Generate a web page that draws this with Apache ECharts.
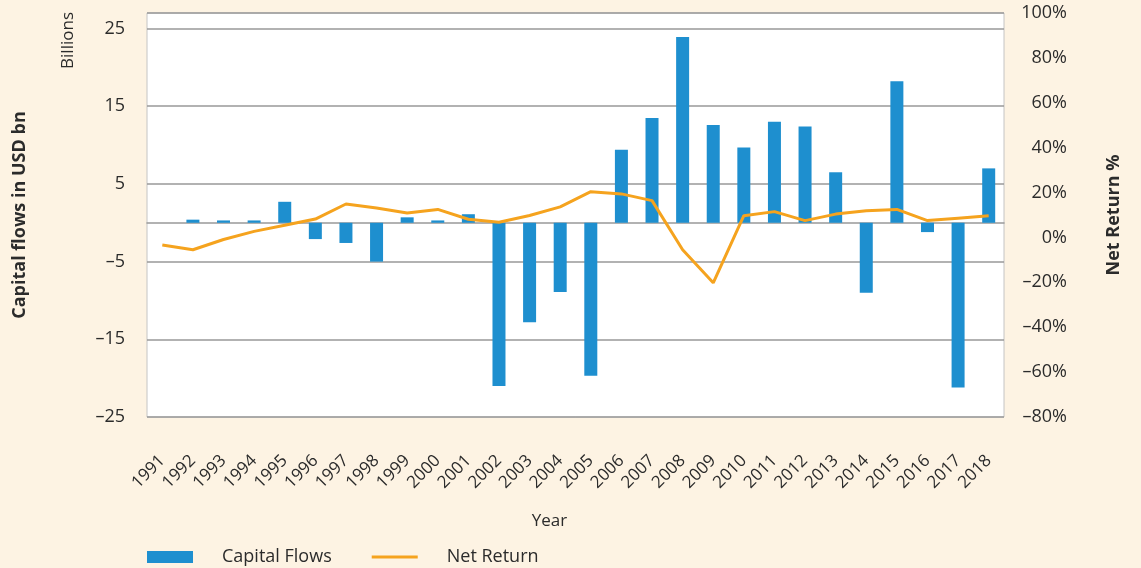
<!DOCTYPE html>
<html>
<head>
<meta charset="utf-8">
<script src="https://cdn.jsdelivr.net/npm/echarts@6/dist/echarts.min.js"></script>
<style>
  html, body { margin: 0; padding: 0; background: #fdf3e3; }
  #chart { width: 1141px; height: 568px; }
</style>
</head>
<body>
<div id="chart"></div>
<script>
// data
const years = ["1991", "1992", "1993", "1994", "1995", "1996", "1997", "1998", "1999", "2000",
  "2001", "2002", "2003", "2004", "2005", "2006", "2007", "2008", "2009", "2010",
  "2011", "2012", "2013", "2014", "2015", "2016", "2017", "2018"];
// capital flows, USD bn
const capitalFlows = [0, 0.4, 0.3, 0.3, 2.7, -2.1, -2.6, -5.0, 0.7, 0.3,
  1.1, -21.0, -12.8, -8.9, -19.7, 9.4, 13.5, 23.9, 12.6, 9.7,
  13.0, 12.4, 6.5, -9.0, 18.2, -1.2, -21.2, 7.0];
// net return, %
const netReturn = [-3.4, -5.5, -0.9, 2.7, 5.4, 8.2, 14.9, 13.1, 10.9, 12.5,
  8.1, 6.8, 9.8, 13.6, 20.4, 19.4, 16.4, -5.5, -20.2, 9.7,
  11.5, 7.5, 10.4, 11.9, 12.5, 7.5, 8.6, 9.7];

const txt = "#2b2b2b";
const font = "Open Sans";
const dash = (v) => String(v).replace("-", "\u2013");

const mychart = echarts.init(document.getElementById("chart"));

const option = {
  backgroundColor: "#fdf3e3",
  textStyle: { fontFamily: font, color: txt },
  grid: {
    left: 147, right: 137, top: 13, bottom: 151,
    outerBoundsMode: "none",
    show: true, backgroundColor: "#ffffff", borderColor: "#c4c4c4", borderWidth: 1
  },
  legend: {
    left: 147, bottom: 2,
    padding: 0,
    itemGap: 40,
    itemWidth: 46, itemHeight: 12,
    textStyle: { fontFamily: font, fontSize: 18, color: txt, padding: [0, 0, 0, 24] },
    data: [
      { name: "Capital Flows", icon: "rect" },
      { name: "Net Return", icon: "path://M0,0 L46,0 L46,3 L0,3 Z" }
    ]
  },
  graphic: [
    {
      type: "text", left: 60, top: 12, rotation: Math.PI / 2,
      style: { text: "Billions", fontFamily: font, fontSize: 17, fill: txt }
    }
  ],
  xAxis: {
    type: "category",
    data: years,
    name: "Year",
    nameLocation: "middle",
    nameGap: 96,
    nameTextStyle: { fontFamily: font, fontSize: 17, color: txt, padding: [0, 52, 0, 0] },
    axisLine: { onZero: true, lineStyle: { color: "#999", width: 1.5 } },
    axisTick: { show: false },
    axisLabel: { interval: 0, rotate: 45, margin: 41, fontSize: 17, color: txt, fontFamily: font }
  },
  yAxis: [
    {
      type: "value",
      min: -25, max: 27, interval: 10,
      name: "Capital flows in USD bn",
      nameLocation: "middle",
      nameRotate: 90,
      nameGap: 118,
      nameTextStyle: { fontFamily: font, fontSize: 18, fontWeight: "bold", color: txt },
      axisLine: { show: false },
      axisTick: { show: false },
      axisLabel: { showMaxLabel: false, margin: 22, fontSize: 18, color: txt, fontFamily: font, formatter: dash },
      splitLine: { lineStyle: { color: "#999", width: 1.5 } }
    },
    {
      type: "value",
      min: -80, max: 100, interval: 20,
      name: "Net Return %",
      nameLocation: "middle",
      nameRotate: 90,
      nameGap: 101,
      nameTextStyle: { fontFamily: font, fontSize: 18, fontWeight: "bold", color: txt },
      axisLine: { show: false },
      axisTick: { show: false },
      axisLabel: { align: "right", margin: 63, fontSize: 18, color: txt, fontFamily: font,
        formatter: (v) => dash(v) + "%" },
      splitLine: { show: false }
    }
  ],
  series: [
    {
      name: "Capital Flows",
      type: "bar",
      data: capitalFlows,
      barWidth: 13,
      itemStyle: { color: "#1e8fcf" }
    },
    {
      name: "Net Return",
      type: "line",
      yAxisIndex: 1,
      data: netReturn,
      symbol: "none",
      lineStyle: { color: "#f5a31e", width: 3 },
      itemStyle: { color: "#f5a31e" }
    }
  ]
};

mychart.setOption(option);
</script>
</body>
</html>
